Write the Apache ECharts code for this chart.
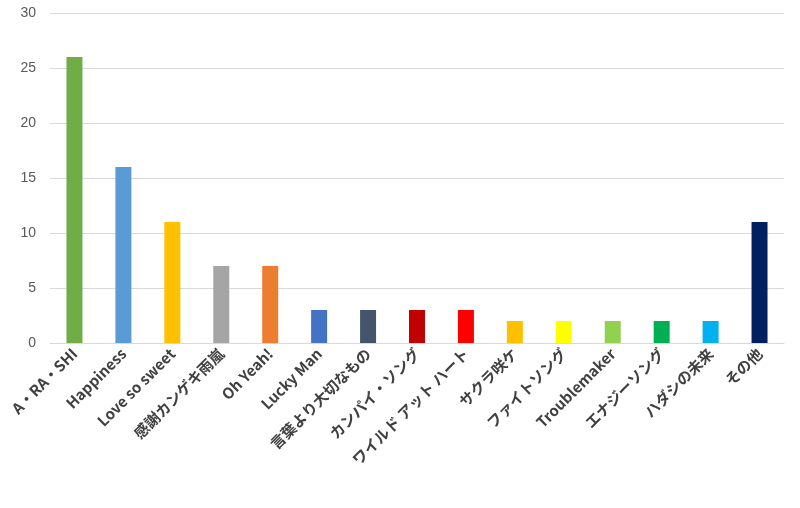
<!DOCTYPE html>
<html><head><meta charset="utf-8">
<script src="https://cdn.jsdelivr.net/npm/echarts@6/dist/echarts.min.js"></script>
<style>html,body{margin:0;padding:0;background:#fff}#c{width:800px;height:508px}</style>
</head><body><div id="c"></div>
<script>
const categories = ["A・RA・SHI","Happiness","Love so sweet","感謝カンゲキ雨嵐","Oh Yeah!","Lucky Man","言葉より大切なもの","カンパイ・ソング","ワイルド アット ハート","サクラ咲ケ","ファイトソング","Troublemaker","エナジーソング","ハダシの未来","その他"];
const values = [26,16,11,7,7,3,3,3,3,2,2,2,2,2,11];
const colors = ["#70ad47","#5b9bd5","#ffc000","#a5a5a5","#ed7d31","#4472c4","#44546a","#c00000","#ff0000","#ffc000","#ffff00","#92d050","#00b050","#00b0f0","#002060"];
const chart = echarts.init(document.getElementById('c'));
chart.setOption({
  animation:false,
  grid:{left:50,right:16,top:13,bottom:165},
  xAxis:{type:'category',data:categories,
    axisLine:{lineStyle:{color:'#d9d9d9'}},axisTick:{show:false},
    axisLabel:{interval:0,rotate:45,color:'#404040',fontWeight:'bold',fontSize:15,fontFamily:'Noto Sans CJK JP',margin:8}},
  yAxis:{type:'value',min:0,max:30,interval:5,
    axisLabel:{color:'#595959',fontSize:14,fontFamily:'Liberation Sans',margin:14},
    splitLine:{lineStyle:{color:'#d9d9d9'}},axisLine:{show:false}},
  series:[{type:'bar',barWidth:16,
    data:values.map((v,i)=>({value:v,itemStyle:{color:colors[i]}}))}]
});
</script></body></html>
